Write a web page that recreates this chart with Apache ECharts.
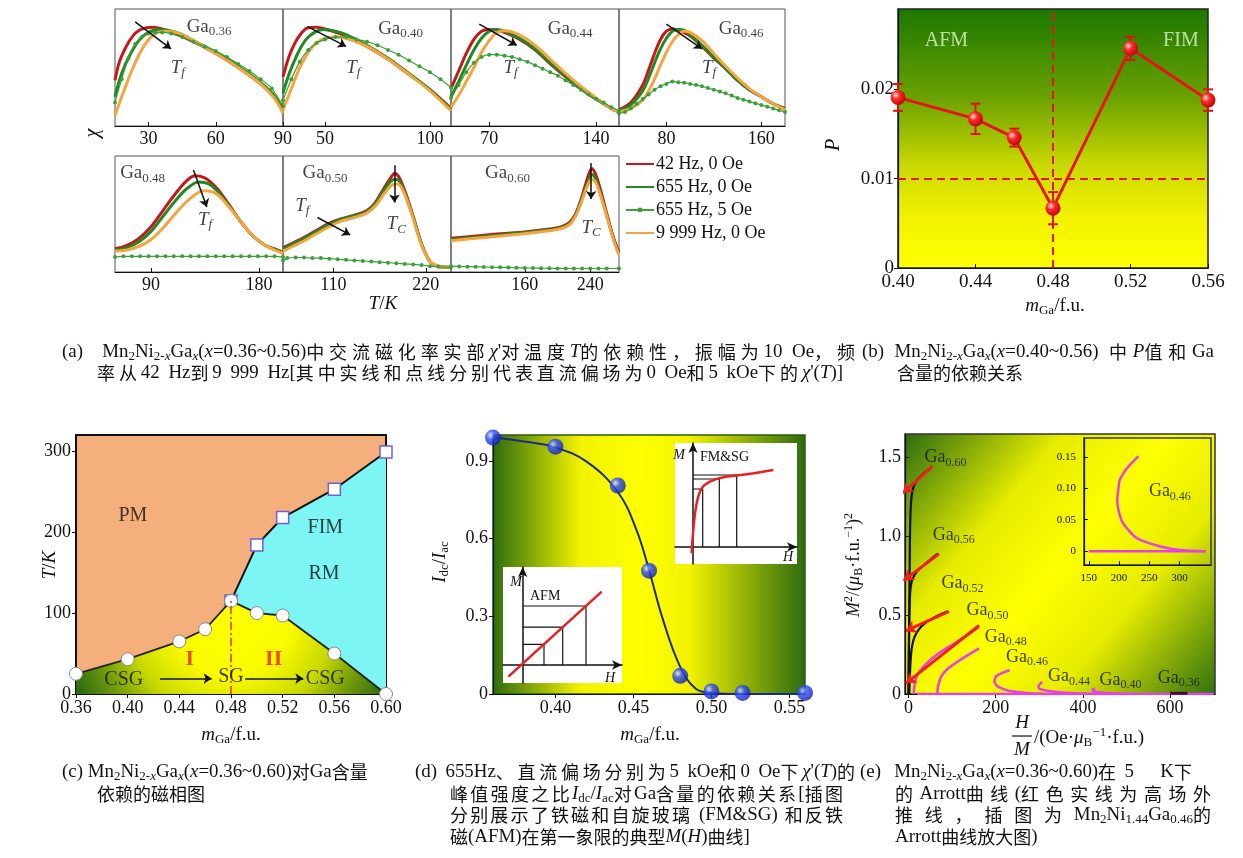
<!DOCTYPE html>
<html>
<head>
<meta charset="utf-8">
<script src="https://cdn.jsdelivr.net/npm/echarts@6/dist/echarts.min.js"></script>
<style>
  html, body { margin: 0; background: #fff; }
  #chart { width: 1243px; height: 858px; }
</style>
</head>
<body>
<div id="chart"></div>
<script>
// ---------- (a) chi'(T), values normalised to the panel height ----------
const ga036_42 = [[15,0.39],[17,0.55],[20,0.68],[23,0.77],[26,0.82],[29,0.84],[32,0.845],[36,0.83],[42,0.79],[50,0.72],[60,0.62],[70,0.5],[80,0.36],[86,0.25],[90,0.14]];
const ga036_655 = [[15,0.25],[18,0.45],[22,0.62],[26,0.74],[30,0.8],[34,0.825],[38,0.82],[44,0.79],[50,0.73],[60,0.63],[70,0.51],[80,0.37],[86,0.26],[90,0.13]];
const ga036_9999 = [[15,0.09],[18,0.25],[22,0.45],[26,0.62],[30,0.74],[34,0.8],[38,0.81],[44,0.79],[50,0.73],[60,0.62],[70,0.5],[80,0.36],[86,0.24],[90,0.11]];
const ga036_dc = [[15,0.2],[18,0.4],[21,0.58],[24,0.7],[27,0.76],[30,0.79],[33,0.8],[36,0.8],[40,0.79],[45,0.76],[50,0.72],[55,0.68],[60,0.64],[65,0.59],[70,0.53],[75,0.47],[80,0.4],[85,0.32],[90,0.17]];

const ga040_42 = [[30,0.42],[33,0.6],[36,0.72],[39,0.8],[42,0.84],[46,0.845],[50,0.83],[60,0.77],[70,0.68],[80,0.57],[90,0.44],[100,0.31],[110,0.15]];
const ga040_655 = [[30,0.28],[33,0.45],[37,0.62],[41,0.74],[45,0.8],[49,0.825],[55,0.81],[60,0.78],[70,0.69],[80,0.58],[90,0.45],[100,0.31],[110,0.14]];
const ga040_9999 = [[30,0.14],[34,0.32],[38,0.5],[42,0.63],[46,0.71],[50,0.75],[55,0.76],[60,0.75],[70,0.68],[80,0.57],[90,0.44],[100,0.3],[110,0.13]];
const ga040_dc = [[30,0.22],[34,0.4],[38,0.55],[42,0.65],[46,0.71],[50,0.74],[55,0.76],[60,0.76],[65,0.74],[70,0.72],[75,0.69],[80,0.65],[85,0.61],[90,0.56],[95,0.51],[100,0.46],[105,0.4],[110,0.33]];

const ga044_42 = [[45,0.32],[50,0.47],[55,0.62],[60,0.74],[65,0.81],[70,0.825],[75,0.82],[80,0.8],[90,0.74],[100,0.65],[110,0.53],[120,0.42],[130,0.32],[140,0.23],[150,0.15],[155,0.12]];
const ga044_655 = [[45,0.25],[50,0.38],[55,0.52],[60,0.65],[65,0.75],[70,0.81],[75,0.825],[80,0.81],[90,0.75],[100,0.66],[110,0.54],[120,0.43],[130,0.32],[140,0.23],[150,0.15],[155,0.12]];
const ga044_9999 = [[45,0.16],[50,0.26],[55,0.38],[60,0.5],[65,0.63],[70,0.73],[75,0.8],[80,0.815],[90,0.78],[100,0.69],[110,0.57],[120,0.45],[130,0.34],[140,0.24],[150,0.15],[155,0.12]];
const ga044_dc = [[45,0.24],[50,0.35],[55,0.46],[60,0.54],[65,0.59],[70,0.61],[75,0.61],[80,0.6],[85,0.59],[90,0.57],[95,0.55],[100,0.52],[105,0.49],[110,0.46],[115,0.43],[120,0.39],[125,0.35],[130,0.31],[135,0.27],[140,0.23],[145,0.2],[150,0.16],[155,0.13]];

const ga046_42 = [[40,0.14],[50,0.2],[60,0.35],[65,0.48],[70,0.62],[75,0.74],[80,0.81],[85,0.83],[90,0.82],[100,0.77],[110,0.68],[120,0.58],[130,0.49],[140,0.39],[150,0.31],[160,0.25],[170,0.19],[180,0.15]];
const ga046_655 = [[40,0.13],[50,0.18],[60,0.3],[65,0.41],[70,0.54],[75,0.66],[80,0.75],[85,0.81],[90,0.825],[95,0.82],[100,0.78],[110,0.69],[120,0.59],[130,0.49],[140,0.39],[150,0.31],[160,0.25],[170,0.19],[180,0.15]];
const ga046_9999 = [[40,0.12],[50,0.15],[60,0.22],[65,0.3],[70,0.4],[75,0.52],[80,0.63],[85,0.72],[90,0.78],[95,0.81],[100,0.8],[110,0.73],[120,0.62],[130,0.51],[140,0.41],[150,0.32],[160,0.25],[170,0.19],[180,0.14]];
const ga046_dc = [[40,0.11],[45,0.12],[50,0.15],[55,0.19],[60,0.23],[65,0.27],[70,0.31],[75,0.34],[80,0.36],[85,0.38],[90,0.375],[95,0.37],[100,0.36],[105,0.35],[110,0.34],[115,0.325],[120,0.31],[125,0.295],[130,0.28],[135,0.26],[140,0.24],[145,0.225],[150,0.21],[155,0.195],[160,0.18],[165,0.165],[170,0.15],[175,0.135],[180,0.12]];

const ga048_42 = [[60,0.2],[70,0.23],[80,0.29],[90,0.39],[100,0.53],[110,0.67],[120,0.79],[127,0.83],[135,0.81],[145,0.72],[155,0.58],[165,0.43],[175,0.31],[185,0.23],[195,0.19],[200,0.17]];
const ga048_655 = [[60,0.19],[70,0.21],[80,0.26],[90,0.35],[100,0.48],[110,0.61],[120,0.72],[130,0.775],[138,0.76],[145,0.7],[155,0.57],[165,0.43],[175,0.31],[185,0.23],[195,0.19],[200,0.17]];
const ga048_9999 = [[60,0.18],[70,0.19],[80,0.22],[90,0.28],[100,0.38],[110,0.5],[120,0.61],[130,0.69],[135,0.7],[145,0.67],[155,0.56],[165,0.43],[175,0.31],[185,0.23],[195,0.18],[200,0.16]];
const ga048_dc = [[60,0.13],[67,0.135],[74,0.135],[81,0.135],[88,0.135],[95,0.135],[102,0.135],[109,0.135],[116,0.135],[123,0.135],[130,0.135],[137,0.135],[144,0.135],[151,0.135],[158,0.135],[165,0.135],[172,0.135],[179,0.135],[186,0.135],[193,0.135],[200,0.13]];

const ga050_42 = [[50,0.21],[70,0.28],[90,0.36],[105,0.42],[120,0.46],[135,0.49],[150,0.53],[160,0.6],[170,0.72],[178,0.81],[183,0.85],[188,0.82],[195,0.7],[205,0.48],[215,0.24],[225,0.09],[235,0.05],[250,0.04]];
const ga050_655 = [[50,0.2],[70,0.27],[90,0.35],[105,0.41],[120,0.455],[135,0.485],[150,0.52],[160,0.59],[170,0.7],[178,0.78],[184,0.8],[189,0.78],[195,0.68],[205,0.47],[215,0.24],[225,0.09],[235,0.05],[250,0.04]];
const ga050_9999 = [[50,0.18],[70,0.25],[90,0.33],[105,0.39],[120,0.44],[135,0.47],[150,0.51],[160,0.57],[170,0.67],[178,0.74],[185,0.76],[190,0.74],[196,0.65],[205,0.46],[215,0.23],[225,0.09],[235,0.05],[250,0.04]];
const ga050_dc = [[50,0.1],[55,0.12],[65,0.125],[75,0.125],[85,0.12],[95,0.12],[105,0.115],[115,0.11],[125,0.105],[135,0.1],[145,0.095],[155,0.09],[165,0.085],[175,0.08],[185,0.075],[195,0.07],[205,0.065],[215,0.06],[225,0.05],[235,0.045],[250,0.04]];

const ga060_42 = [[70,0.29],[100,0.31],[130,0.33],[160,0.345],[190,0.37],[205,0.39],[215,0.43],[222,0.5],[228,0.61],[234,0.75],[239,0.86],[242,0.89],[246,0.85],[252,0.72],[258,0.56],[264,0.4],[270,0.26],[275,0.17]];
const ga060_655 = [[70,0.28],[100,0.3],[130,0.32],[160,0.34],[190,0.365],[205,0.385],[215,0.42],[222,0.49],[228,0.6],[234,0.72],[239,0.81],[242,0.84],[246,0.81],[252,0.69],[258,0.54],[264,0.39],[270,0.25],[275,0.16]];
const ga060_9999 = [[70,0.27],[100,0.29],[130,0.31],[160,0.33],[190,0.355],[205,0.375],[215,0.41],[222,0.48],[228,0.58],[234,0.7],[239,0.78],[242,0.8],[246,0.78],[252,0.67],[258,0.53],[264,0.38],[270,0.24],[275,0.15]];
const ga060_dc = [[70,0.05],[80,0.048],[90,0.046],[100,0.045],[110,0.043],[120,0.041],[130,0.04],[140,0.038],[150,0.036],[160,0.035],[170,0.034],[180,0.033],[190,0.032],[200,0.031],[210,0.03],[220,0.03],[230,0.03],[240,0.03],[250,0.03],[260,0.03],[275,0.03]];

const aRanges = [[15,90],[30,110],[45,155],[40,180],[60,200],[50,250],[70,275]];
const aTicks = [[30,60,90],[50,100],[70,140],[80,160],[90,180],[110,220],[160,240]];
const legendNames = ['42 Hz, 0 Oe','655 Hz, 0 Oe','655 Hz, 5 Oe','9 999 Hz, 0 Oe'];

// ---------- (b) P vs Ga content ----------
const mGa_b = [0.40,0.44,0.46,0.48,0.52,0.56];
const P_b = [0.0191,0.0167,0.0146,0.0067,0.0246,0.0188];
const Perr_b = [0.0015,0.0017,0.001,0.0018,0.0013,0.0012];

// ---------- (c) phase diagram ----------
const xCirc_c = [0.36,0.40,0.44,0.46,0.48,0.50,0.52,0.56,0.60];
const Tf_c = [25,43,65,80,115,100,97,50,0];
const xSq_c = [0.48,0.50,0.52,0.56,0.60];
const Tc_c = [115,184,218,253,299];

// ---------- (d) Idc/Iac ----------
const mGa_d = [0.36,0.40,0.44,0.46,0.48,0.50,0.52,0.56];
const ratio_d = [0.99,0.955,0.805,0.476,0.07,0.01,0.004,0.004];
const fit_d = [[0.36,0.99],[0.38,0.975],[0.40,0.952],[0.42,0.897],[0.44,0.78],[0.452,0.633],[0.46,0.479],[0.469,0.286],[0.48,0.105],[0.49,0.02],[0.50,0.004],[0.52,0],[0.56,0]];
const fmCurve = [[-0.013,-0.063],[0.003,0.17],[0.037,0.437],[0.087,0.587],[0.17,0.653],[0.303,0.697],[0.537,0.727],[0.803,0.77]];
const fmStepH = [0.097,0.263,0.437];
const fmStepM = [0.58,0.68,0.72];
const afmLine = [[-0.143,-0.117],[0.79,0.733]];
const afmStepH = [0.213,0.40,0.633];
const afmStepM = [0.207,0.378,0.59];

// ---------- (e) Arrott plots ----------
const arrott060 = [[0,0],[1,0.3],[2,0.6],[3,0.9],[4,1.1],[6,1.22],[10,1.3],[20,1.36],[35,1.4],[50,1.43]];
const arrott056 = [[0,0],[1,0.3],[2,0.5],[4,0.65],[8,0.72],[20,0.78],[40,0.83],[66,0.89]];
const arrott052 = [[2,0],[3,0.1],[5,0.22],[8,0.3],[15,0.37],[30,0.43],[55,0.48],[90,0.525]];
const arrott050 = [[12,0],[14,0.06],[20,0.12],[40,0.19],[70,0.26],[110,0.33],[160,0.42]];
const arrott048 = [[66,0],[68,0.05],[75,0.11],[90,0.16],[110,0.2],[135,0.245],[162,0.29]];
const arrott046 = [[343,0],[300,0.002],[270,0.007],[240,0.016],[226,0.023],[210,0.04],[204,0.049],[198,0.07],[197,0.081],[199,0.1],[201,0.113],[208,0.125],[215,0.134],[232,0.151]];
const arrott044 = [[430,0],[380,0.004],[340,0.012],[315,0.022],[300,0.035],[298,0.05],[302,0.065],[307,0.075]];
const arrott040 = [[520,0],[480,0.003],[445,0.008],[425,0.018],[422,0.028],[428,0.035]];
const arrott036 = [[600,0.005],[640,0.005]];
const arrottBase = [[20,0],[700,0]];
const fit060 = [[-13,1.275],[55,1.445]];
const fit056 = [[-11,0.72],[70,0.89]];
const fit052 = [[-6,0.4],[93,0.525]];
const fit050 = [[-6,0.067],[162,0.435]];
const inset046Base = [[150,0],[343,0]];

// ---------- helpers ----------
const SERIF = "'Liberation Serif', 'Noto Sans CJK SC', serif";
const CJKFONT = "'Noto Sans CJK SC', sans-serif";
const RED = '#c8161d', GREEN = '#1f8a1f', ORANGE = '#f7a440', DC = '#3aa03a';
const CJK = /[\u3000-\u9fff\uff00-\uffef]/;

function rich(size) {
  const sub = Math.round(size * 0.68);
  const base = { fontFamily: SERIF, fontSize: size, lineHeight: size + 4 };
  return {
    n: base,
    i: Object.assign({}, base, { fontStyle: 'italic' }),
    b: Object.assign({}, base, { fontWeight: 'bold' }),
    s: { fontFamily: SERIF, fontSize: sub, lineHeight: sub, verticalAlign: 'bottom' },
    si: { fontFamily: SERIF, fontSize: sub, lineHeight: sub, verticalAlign: 'bottom', fontStyle: 'italic' },
    p: { fontFamily: SERIF, fontSize: sub, lineHeight: sub, verticalAlign: 'top' }
  };
}

function gtext(x, y, text, size, o) {
  o = o || {};
  const align = o.align || 'left';
  return {
    type: 'text', x: x, y: y, rotation: o.rot || 0, silent: true, z: 100,
    style: {
      text: text, rich: o.rich || rich(size), fill: o.color || '#111', font: size + 'px ' + SERIF,
      align: align, textAlign: align, verticalAlign: 'middle', textVerticalAlign: 'middle'
    }
  };
}

// caption line: CJK in the CJK font, latin slightly larger; when a width is given
// the spare room goes to CJK characters and spaces, like the justified print layout
const measureCtx = document.createElement('canvas').getContext('2d');
function fontOf(st) {
  return (st.fontStyle ? 'italic ' : '') + (st.fontWeight ? 'bold ' : '') + st.fontSize + 'px ' + st.fontFamily;
}
function caption(x, y, str, size, width) {
  const latin = size * 1.05;
  const r = rich(latin);
  r.h = { fontFamily: CJKFONT, fontSize: size, lineHeight: latin + 4 };
  const runs = [];
  str.replace(/\{(\w+)\|([^}]*)\}/g, (m, s, t) => {
    if (s !== 'n') { runs.push([s, t, false]); return m; }
    t.split(/([\u3000-\u9fff\uff00-\uffef ])/).filter(p => p).forEach(p => {
      if (CJK.test(p)) runs.push(['h', p, true]);
      else runs.push(['n', p, p === ' ']);
    });
    return m;
  });
  let natural = 0, nStretch = 0;
  runs.forEach((run, k) => {
    measureCtx.font = fontOf(r[run[0]]);
    natural += measureCtx.measureText(run[1]).width;
    if (run[2] && k < runs.length - 1) nStretch++;
  });
  const extra = width && nStretch ? Math.max(0, (width - natural) / nStretch) : 0;
  r.hp = Object.assign({}, r.h, { padding: [0, extra, 0, 0] });
  r.np = Object.assign({}, r.n, { padding: [0, extra, 0, 0] });
  const out = runs.map((run, k) => {
    const st = run[2] && extra > 0 && k < runs.length - 1 ? run[0] + 'p' : run[0];
    return '{' + st + '|' + run[1] + '}';
  }).join('');
  return gtext(x, y, out, size, { rich: r });
}

const grids = [], xAxes = [], yAxes = [], series = [];

function addGrid(box, extra) {
  grids.push(Object.assign({ show: true, containLabel: false, outerBoundsMode: 'none',
    borderColor: '#222', borderWidth: 1, backgroundColor: 'transparent' }, box, extra || {}));
  return grids.length - 1;
}

function axis(gi, min, max, o) {
  o = o || {};
  return {
    type: 'value', gridIndex: gi, min: min, max: max,
    splitLine: { show: false },
    axisLine: { show: !!o.line, onZero: false, lineStyle: { color: '#111', width: o.lineWidth || 1.2 } },
    axisTick: o.ticks ? { show: true, inside: !!o.tickInside, length: 4, customValues: o.ticks,
      lineStyle: { color: '#111', width: 1 } } : { show: false },
    axisLabel: o.ticks ? {
      show: true, customValues: o.ticks, fontFamily: SERIF, fontSize: o.size || 18, color: '#111',
      margin: o.margin == null ? 6 : o.margin,
      formatter: o.fmt || (v => String(v))
    } : { show: false }
  };
}

function textMarks(gi, items, size, color) {
  return {
    type: 'scatter', xAxisIndex: gi, yAxisIndex: gi, symbolSize: 0, silent: true, z: 10, clip: false,
    data: items.map(d => ({ value: [d[0], d[1]], t: d[2] })),
    label: { show: true, position: 'inside', formatter: p => p.data.t, color: color || '#111', rich: rich(size) }
  };
}

function arrows(gi, segs, color, width, sym) {
  return {
    type: 'lines', coordinateSystem: 'cartesian2d', xAxisIndex: gi, yAxisIndex: gi, silent: true, z: 9,
    symbol: sym || ['none', 'arrow'], symbolSize: 8,
    lineStyle: { color: color || '#111', width: width || 1.5, opacity: 1, curveness: 0 },
    data: segs.map(s => ({ coords: s }))
  };
}

function chiSeries(gi, red, green, orange, dc) {
  const base = { type: 'line', xAxisIndex: gi, yAxisIndex: gi, smooth: 0.35, symbol: 'none', silent: true, z: 3 };
  return [
    Object.assign({}, base, { name: legendNames[0], data: red, lineStyle: { color: RED, width: 3 }, itemStyle: { color: RED } }),
    Object.assign({}, base, { name: legendNames[1], data: green, lineStyle: { color: GREEN, width: 3 }, itemStyle: { color: GREEN } }),
    Object.assign({}, base, { name: legendNames[3], data: orange, lineStyle: { color: ORANGE, width: 3 }, itemStyle: { color: ORANGE } }),
    Object.assign({}, base, { name: legendNames[2], data: dc, symbol: 'circle', symbolSize: 4, showSymbol: true,
      lineStyle: { color: DC, width: 1.2 }, itemStyle: { color: DC } })
  ];
}

function sphere(c0, c1, c2) {
  return { type: 'radial', x: 0.35, y: 0.35, r: 0.75,
    colorStops: [{ offset: 0, color: c0 }, { offset: 0.35, color: c1 }, { offset: 1, color: c2 }] };
}

// ---------- (a) seven small panels ----------
const aBoxes = [
  { left: 115, top: 9, width: 168, height: 117 },
  { left: 283, top: 9, width: 168, height: 117 },
  { left: 451, top: 9, width: 168, height: 117 },
  { left: 619, top: 9, width: 166, height: 117 },
  { left: 115, top: 156, width: 168, height: 116 },
  { left: 283, top: 156, width: 168, height: 116 },
  { left: 451, top: 156, width: 168, height: 116 }
];
const aData = [
  [ga036_42, ga036_655, ga036_9999, ga036_dc],
  [ga040_42, ga040_655, ga040_9999, ga040_dc],
  [ga044_42, ga044_655, ga044_9999, ga044_dc],
  [ga046_42, ga046_655, ga046_9999, ga046_dc],
  [ga048_42, ga048_655, ga048_9999, ga048_dc],
  [ga050_42, ga050_655, ga050_9999, ga050_dc],
  [ga060_42, ga060_655, ga060_9999, ga060_dc]
];
aBoxes.forEach((box, k) => {
  const gi = addGrid(box, { borderColor: '#555', borderWidth: 1 });
  xAxes.push(axis(gi, aRanges[k][0], aRanges[k][1], { line: true, ticks: aTicks[k], tickInside: true, size: 18, margin: 4 }));
  yAxes.push(axis(gi, 0, 1));
  const d = aData[k];
  chiSeries(gi, d[0], d[1], d[2], d[3]).forEach(s => series.push(s));
});

const TF = '{i|T}{si|f}', TC = '{i|T}{si|C}';
series.push(textMarks(0, [[57, 0.85, '{n|Ga}{s|0.36}'], [43, 0.5, TF]], 19));
series.push(textMarks(1, [[86, 0.83, '{n|Ga}{s|0.40}'], [63.5, 0.5, TF]], 19));
series.push(textMarks(2, [[123, 0.83, '{n|Ga}{s|0.44}'], [84, 0.5, TF]], 19));
series.push(textMarks(3, [[143, 0.83, '{n|Ga}{s|0.46}'], [116, 0.5, TF]], 19));
series.push(textMarks(4, [[83, 0.85, '{n|Ga}{s|0.48}'], [135, 0.45, TF]], 19));
series.push(textMarks(5, [[100, 0.85, '{n|Ga}{s|0.50}'], [73, 0.57, TF], [185, 0.41, TC]], 19));
series.push(textMarks(6, [[139, 0.85, '{n|Ga}{s|0.60}'], [241, 0.38, TC]], 19));
series.push(arrows(0, [[[24, 0.89], [40, 0.66]]]));
series.push(arrows(1, [[[41.7, 0.85], [60, 0.68]]]));
series.push(arrows(2, [[[63.5, 0.87], [88, 0.69]]]));
series.push(arrows(3, [[[80, 0.87], [110, 0.66]]]));
series.push(arrows(4, [[[125.4, 0.88], [136.5, 0.56]]]));
series.push(arrows(5, [[[91, 0.47], [130, 0.32]], [[182.7, 0.92], [182.7, 0.6]]]));
series.push(arrows(6, [[[241, 0.94], [241, 0.63]]]));

// ---------- (b) ----------
const gB = addGrid({ left: 898, top: 9, width: 310, height: 259 }, {
  borderColor: '#222', borderWidth: 1.5,
  backgroundColor: { type: 'linear', x: 0, y: 0, x2: 0, y2: 1, colorStops: [
    { offset: 0, color: '#1b7700' }, { offset: 0.35, color: '#6da300' }, { offset: 0.6, color: '#c8d800' },
    { offset: 0.8, color: '#f2f200' }, { offset: 1, color: '#ffff00' }] }
});
xAxes.push(axis(gB, 0.40, 0.56, { line: true, ticks: [0.40, 0.44, 0.48, 0.52, 0.56], tickInside: true, size: 19, margin: 5, fmt: v => v.toFixed(2) }));
yAxes.push(axis(gB, 0, 0.029, { line: true, ticks: [0, 0.01, 0.02], size: 19, margin: 4, fmt: v => v === 0 ? '0' : v.toFixed(2) }));
series.push({
  type: 'line', xAxisIndex: gB, yAxisIndex: gB, silent: true, clip: false, z: 5,
  data: mGa_b.map((x, i) => [x, P_b[i]]),
  symbol: 'circle', symbolSize: 15,
  itemStyle: { color: sphere('#ffe0e0', '#ff2a2a', '#b00000') },
  lineStyle: { color: '#e8141c', width: 3 },
  markLine: { silent: true, symbol: 'none', label: { show: false },
    lineStyle: { color: '#e8141c', type: [8, 5], width: 2 },
    data: [{ yAxis: 0.01 }, { xAxis: 0.48 }] }
});
series.push({
  type: 'custom', xAxisIndex: gB, yAxisIndex: gB, silent: true, clip: false, z: 4,
  data: mGa_b.map((x, i) => [x, P_b[i] - Perr_b[i], P_b[i] + Perr_b[i]]),
  renderItem: (params, api) => {
    const lo = api.coord([api.value(0), api.value(1)]);
    const hi = api.coord([api.value(0), api.value(2)]);
    const st = { stroke: '#e01010', lineWidth: 2 };
    return { type: 'group', children: [
      { type: 'line', shape: { x1: lo[0], y1: lo[1], x2: hi[0], y2: hi[1] }, style: st },
      { type: 'line', shape: { x1: lo[0] - 5, y1: lo[1], x2: lo[0] + 5, y2: lo[1] }, style: st },
      { type: 'line', shape: { x1: hi[0] - 5, y1: hi[1], x2: hi[0] + 5, y2: hi[1] }, style: st }
    ] };
  }
});
series.push(textMarks(gB, [[0.425, 0.0254, '{n|AFM}'], [0.546, 0.0254, '{n|FIM}']], 20, '#e4f4d4'));

// ---------- (c) ----------
const gC = addGrid({ left: 76, top: 435, width: 310, height: 259 }, { borderColor: '#111', borderWidth: 2, backgroundColor: '#f5af7d' });
xAxes.push(axis(gC, 0.36, 0.60, { line: true, lineWidth: 2, ticks: [0.36, 0.40, 0.44, 0.48, 0.52, 0.56, 0.60], size: 18, margin: 5, fmt: v => v.toFixed(2) }));
yAxes.push(axis(gC, 0, 320, { line: true, lineWidth: 2, ticks: [0, 100, 200, 300], size: 18, margin: 5 }));
series.push({
  type: 'line', xAxisIndex: gC, yAxisIndex: gC, silent: true, z: 2, clip: false,
  data: xSq_c.map((x, i) => [x, Tc_c[i]]),
  symbol: 'rect', symbolSize: 12,
  itemStyle: { color: '#fff', borderColor: '#6b62d6', borderWidth: 1.5 },
  lineStyle: { color: '#111', width: 2 },
  areaStyle: { color: '#7df5f5', opacity: 1 }
});
series.push({
  type: 'line', xAxisIndex: gC, yAxisIndex: gC, silent: true, z: 3, clip: false,
  data: xCirc_c.map((x, i) => [x, Tf_c[i]]),
  symbol: 'circle', symbolSize: 13,
  itemStyle: { color: '#fff', borderColor: '#888', borderWidth: 1 },
  lineStyle: { color: '#222', width: 1.8 },
  areaStyle: { opacity: 1, color: { type: 'radial', x: 0.5, y: 0.15, r: 1.85, colorStops: [
    { offset: 0, color: '#ffff00' }, { offset: 0.35, color: '#fbfb00' }, { offset: 0.6, color: '#c8d800' },
    { offset: 0.8, color: '#6f9a0c' }, { offset: 1, color: '#2a6810' }] } }
});
series.push({
  type: 'line', xAxisIndex: gC, yAxisIndex: gC, silent: true, z: 4, symbol: 'none',
  data: [[0.48, 0], [0.48, Tf_c[4]]],
  lineStyle: { color: '#e03030', width: 1.5, type: [8, 3, 2, 3] }
});
series.push(arrows(gC, [[[0.425, 19], [0.465, 19]], [[0.491, 19], [0.536, 19]]]));
series.push(textMarks(gC, [[0.404, 220, '{n|PM}'], [0.553, 205, '{n|FIM}'], [0.552, 148, '{n|RM}'],
  [0.397, 17, '{n|CSG}'], [0.48, 21, '{n|SG}'], [0.553, 19, '{n|CSG}']], 20));
series.push(textMarks(gC, [[0.448, 43, '{b|I}'], [0.513, 43, '{b|II}']], 22, '#e8201a'));

// ---------- (d) ----------
const gD = addGrid({ left: 493, top: 435, width: 312, height: 259 }, {
  borderColor: '#2c5a12', borderWidth: 1.5,
  backgroundColor: { type: 'linear', x: 0, y: 0, x2: 1, y2: 0, colorStops: [
    { offset: 0, color: '#2c6b0e' }, { offset: 0.28, color: '#f2f200' }, { offset: 0.48, color: '#ffff00' },
    { offset: 0.63, color: '#f2f200' }, { offset: 1, color: '#2c6b0e' }] }
});
xAxes.push(axis(gD, 0.36, 0.56, { line: true, ticks: [0.40, 0.45, 0.50, 0.55], size: 18, margin: 5, fmt: v => v.toFixed(2) }));
yAxes.push(axis(gD, 0, 1.0, { line: true, ticks: [0, 0.3, 0.6, 0.9], size: 18, margin: 5, fmt: v => v === 0 ? '0' : v.toFixed(1) }));
series.push({ type: 'line', xAxisIndex: gD, yAxisIndex: gD, silent: true, z: 3, smooth: 0.4, symbol: 'none',
  data: fit_d, lineStyle: { color: '#1c2a80', width: 2 } });
series.push({ type: 'scatter', xAxisIndex: gD, yAxisIndex: gD, silent: true, z: 4, clip: false, symbolSize: 16,
  data: mGa_d.map((x, i) => [x, ratio_d[i]]),
  itemStyle: { color: sphere('#d6defe', '#2d4bff', '#0a1aa0') } });

// insets of (d)
function insetAxes(gi, xr, yr) {
  const ax = {
    type: 'value', gridIndex: gi, splitLine: { show: false }, axisTick: { show: false }, axisLabel: { show: false },
    axisLine: { show: true, onZero: true, symbol: ['none', 'arrow'], symbolSize: [7, 10], lineStyle: { color: '#111', width: 1.5 } }
  };
  xAxes.push(Object.assign({}, ax, { min: xr[0], max: xr[1] }));
  yAxes.push(Object.assign({}, ax, { min: yr[0], max: yr[1] }));
}
const gFM = addGrid({ left: 675, top: 443, width: 122, height: 121 }, { borderWidth: 0, backgroundColor: '#fff' });
insetAxes(gFM, [-0.18, 1.04], [-0.17, 1.04]);
series.push({
  type: 'lines', coordinateSystem: 'cartesian2d', xAxisIndex: gFM, yAxisIndex: gFM, polyline: true, silent: true, z: 5,
  lineStyle: { color: '#111', width: 1.2, opacity: 1 },
  data: fmStepH.map((h, i) => ({ coords: [[0, fmStepM[i]], [h, fmStepM[i]], [h, 0]] }))
});
series.push({ type: 'line', xAxisIndex: gFM, yAxisIndex: gFM, silent: true, z: 6, smooth: 0.4, symbol: 'none',
  data: fmCurve, lineStyle: { color: '#e82020', width: 2.5 } });

const gAFM = addGrid({ left: 503, top: 567, width: 119, height: 116 }, { borderWidth: 0, backgroundColor: '#fff' });
insetAxes(gAFM, [-0.197, 0.993], [-0.18, 0.98]);
series.push({
  type: 'lines', coordinateSystem: 'cartesian2d', xAxisIndex: gAFM, yAxisIndex: gAFM, polyline: true, silent: true, z: 5,
  lineStyle: { color: '#111', width: 1.2, opacity: 1 },
  data: afmStepH.map((h, i) => ({ coords: [[0, afmStepM[i]], [h, afmStepM[i]], [h, 0]] }))
});
series.push({ type: 'line', xAxisIndex: gAFM, yAxisIndex: gAFM, silent: true, z: 6, symbol: 'none',
  data: afmLine, lineStyle: { color: '#e82020', width: 2.5 } });

// ---------- (e) ----------
const gE = addGrid({ left: 905, top: 434, width: 310, height: 260 }, {
  borderColor: '#333', borderWidth: 1.5,
  backgroundColor: { type: 'linear', x: 0, y: 0, x2: 1, y2: 1, colorStops: [
    { offset: 0, color: '#2a6b10' }, { offset: 0.3, color: '#e6ec00' }, { offset: 0.5, color: '#ffff00' },
    { offset: 0.7, color: '#e6ec00' }, { offset: 1, color: '#2f7010' }] }
});
xAxes.push(axis(gE, -8, 703, { line: true, ticks: [0, 200, 400, 600], size: 18, margin: 5 }));
yAxes.push(axis(gE, 0, 1.65, { line: true, ticks: [0, 0.5, 1.0, 1.5], tickInside: true, size: 18, margin: 4, fmt: v => v === 0 ? '0' : v.toFixed(1) }));
function arrottLine(gi, data, color, width, z) {
  return { type: 'line', xAxisIndex: gi, yAxisIndex: gi, silent: true, smooth: 0.3, symbol: 'none', z: z || 3,
    data: data, lineStyle: { color: color, width: width || 2.5 } };
}
const MAG = '#e83ee8';
series.push(arrottLine(gE, arrottBase, MAG, 2.5, 2));
[arrott060, arrott056, arrott052].forEach(d => series.push(arrottLine(gE, d, '#111', 2.2)));
[arrott050, arrott048, arrott046, arrott044, arrott040].forEach(d => series.push(arrottLine(gE, d, MAG, 2.5)));
series.push(arrottLine(gE, arrott036, '#3a1040', 3));
series.push(Object.assign(arrows(gE, [fit060, fit056, fit052, fit050], '#ee2020', 3, ['arrow', 'none']), { symbolSize: 10, z: 6 }));
series.push(textMarks(gE, [[85, 1.5, '{n|Ga}{s|0.60}'], [104, 1.01, '{n|Ga}{s|0.56}'], [124, 0.7, '{n|Ga}{s|0.52}'],
  [181, 0.53, '{n|Ga}{s|0.50}'], [223, 0.36, '{n|Ga}{s|0.48}'], [272, 0.235, '{n|Ga}{s|0.46}'],
  [368, 0.11, '{n|Ga}{s|0.44}'], [486, 0.09, '{n|Ga}{s|0.40}'], [620, 0.1, '{n|Ga}{s|0.36}']], 18));

const gEi = addGrid({ left: 1084, top: 438, width: 127, height: 127 }, { borderColor: '#3b3b20', borderWidth: 1.5 });
xAxes.push(axis(gEi, 142, 352, { line: true, ticks: [150, 200, 250, 300], tickInside: true, size: 11, margin: 8 }));
yAxes.push(axis(gEi, -0.022, 0.18, { line: true, ticks: [0, 0.05, 0.10, 0.15], tickInside: true, size: 11, margin: 8,
  fmt: v => v === 0 ? '0' : v.toFixed(2) }));
series.push(arrottLine(gEi, inset046Base, MAG, 2.5));
series.push(arrottLine(gEi, arrott046, MAG, 2.5));
series.push(textMarks(gEi, [[284, 0.095, '{n|Ga}{s|0.46}']], 18));

// ---------- axis names and captions ----------
const cap = 18;
const MNGA = '{n|Mn}{s|2}{n|Ni}{s|2-}{si|x}{n|Ga}{si|x}{n|(}{i|x}';
const graphics = [
  gtext(93, 133, '{i|χ}', 20, { rot: Math.PI / 2, align: 'center' }),
  gtext(383, 304, '{i|T}{n|/}{i|K}', 19, { align: 'center' }),
  gtext(834, 145, '{i|P}', 20, { rot: Math.PI / 2, align: 'center' }),
  gtext(1055, 306, '{i|m}{s|Ga}{n|/f.u.}', 19, { align: 'center' }),
  gtext(50, 565, '{i|T}{n|/}{i|K}', 19, { rot: Math.PI / 2, align: 'center' }),
  gtext(231, 735, '{i|m}{s|Ga}{n|/f.u.}', 19, { align: 'center' }),
  gtext(440, 562, '{i|I}{s|dc}{n|/}{i|I}{s|ac}', 19, { rot: Math.PI / 2, align: 'center' }),
  gtext(650, 735, '{i|m}{s|Ga}{n|/f.u.}', 19, { align: 'center' }),
  gtext(854, 565, '{i|M}{p|2}{n|/(}{i|μ}{s|B}{n|·f.u.}{p|−1}{n|)}{p|2}', 18, { rot: Math.PI / 2, align: 'center' }),
  gtext(1022, 723, '{i|H}', 19, { align: 'center' }),
  { type: 'line', silent: true, shape: { x1: 1012, y1: 736, x2: 1032, y2: 736 }, style: { stroke: '#111', lineWidth: 1.2 } },
  gtext(1022, 750, '{i|M}', 19, { align: 'center' }),
  gtext(1034, 738, '{n|/(Oe·}{i|μ}{s|B}{p|−1}{n|·f.u.)}', 19),
  // inset labels of (d)
  gtext(679, 455, '{i|M}', 14, { align: 'center' }),
  gtext(700, 457, '{n|FM&SG}', 14),
  gtext(788, 557, '{i|H}', 14, { align: 'center' }),
  gtext(516, 582, '{i|M}', 14, { align: 'center' }),
  gtext(530, 596, '{n|AFM}', 14),
  gtext(610, 678, '{i|H}', 14, { align: 'center' }),
  // captions
  caption(62, 352, '{n|(a)  }' + MNGA + '{n|=0.36~0.56)中交流磁化率实部}{i|χ}{n|\'对温度}{i|T}{n|的依赖性，振幅为10 Oe，频}', cap, 793),
  caption(97, 373, '{n|率从42 Hz到9 999 Hz[其中实线和点线分别代表直流偏场为0 Oe和5 kOe下的}{i|χ}{n|\'(}{i|T}{n|)]}', cap, 746),
  caption(862, 352, '{n|(b) }' + MNGA + '{n|=0.40~0.56) 中}{i|P}{n|值和Ga}', cap, 352),
  caption(897, 373, '{n|含量的依赖关系}', cap),
  caption(62, 772, '{n|(c) }' + MNGA + '{n|=0.36~0.60)对Ga含量}', cap),
  caption(97, 794, '{n|依赖的磁相图}', cap),
  caption(415, 772, '{n|(d) 655Hz、直流偏场分别为5 kOe和0 Oe下}{i|χ}{n|\'(}{i|T}{n|)的}', cap, 440),
  caption(450, 794, '{n|峰值强度之比}{i|I}{s|dc}{n|/}{i|I}{s|ac}{n|对Ga含量的依赖关系[插图}', cap, 393),
  caption(450, 815, '{n|分别展示了铁磁和自旋玻璃 (FM&SG) 和反铁}', cap, 393),
  caption(450, 837, '{n|磁(AFM)在第一象限的典型}{i|M}{n|(}{i|H}{n|)曲线]}', cap),
  caption(860, 772, '{n|(e) }' + MNGA + '{n|=0.36~0.60)在5  K下}', cap, 332),
  caption(895, 794, '{n|的Arrott曲线(红色实线为高场外}', cap, 316),
  caption(895, 815, '{n|推线，插图为Mn}{s|2}{n|Ni}{s|1.44}{n|Ga}{s|0.46}{n|的}', cap, 316),
  caption(895, 837, '{n|Arrott曲线放大图)}', cap)
];

const chart = echarts.init(document.getElementById('chart'), null, { renderer: 'canvas' });
chart.setOption({
  animation: false,
  backgroundColor: '#fff',
  textStyle: { fontFamily: SERIF },
  grid: grids,
  xAxis: xAxes,
  yAxis: yAxes,
  legend: {
    data: legendNames.map((n, i) => i === 2 ? { name: n } : { name: n, itemStyle: { opacity: 0 } }),
    orient: 'vertical', left: 620, top: 149, selectedMode: false,
    itemWidth: 28, itemHeight: 6, itemGap: 3,
    textStyle: { fontFamily: SERIF, fontSize: 18, lineHeight: 20, color: '#111', padding: [0, 0, 0, -3] }
  },
  series: series,
  graphic: { elements: graphics }
});
</script>
</body>
</html>
